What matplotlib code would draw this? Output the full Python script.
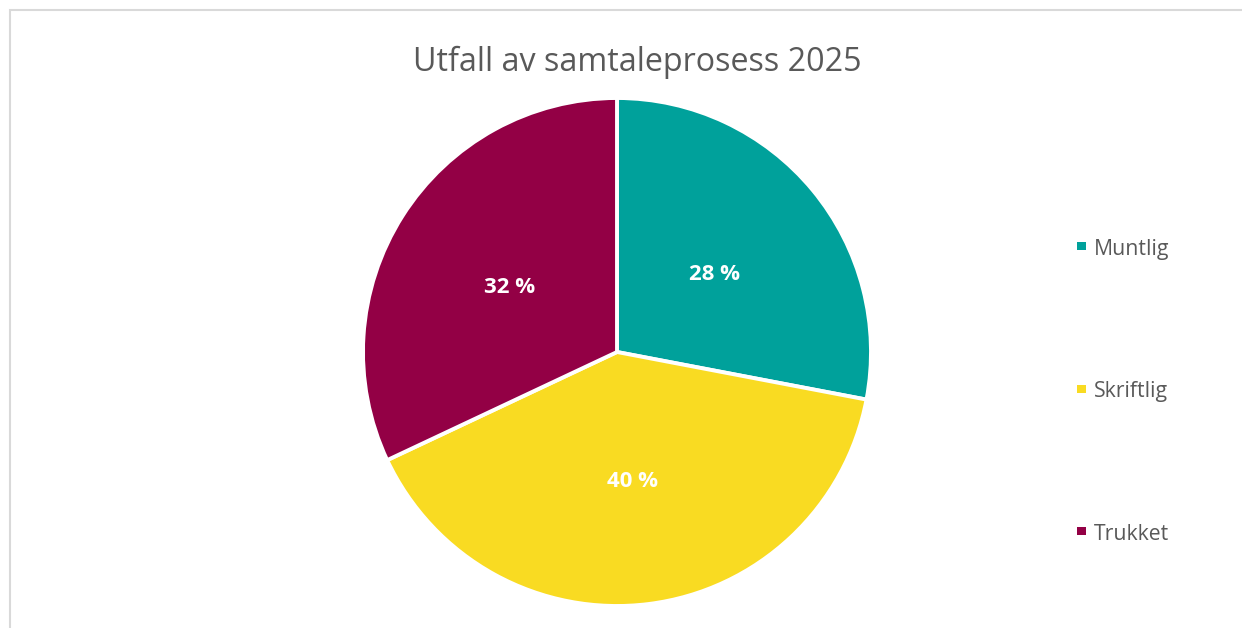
import matplotlib.pyplot as plt
from matplotlib.patches import Rectangle
import numpy as np

# data
labels = ['Muntlig', 'Skriftlig', 'Trukket']
shares = [28, 40, 32]
colors = ['#00A19B', '#F9DB22', '#930045']
title = 'Utfall av samtaleprosess 2025'

plt.rcParams['font.family'] = ['Open Sans', 'DejaVu Sans']
text_grey = '#595959'

fig = plt.figure(figsize=(12.42, 6.28), dpi=100)

# light frame like the Excel chart area
fig.patches.append(Rectangle((9.5 / 1242, -0.01), 1.1, 1 - 9.5 / 628 + 0.01,
                             transform=fig.transFigure, fill=False,
                             edgecolor='#d9d9d9', linewidth=1.5))

# pie axes: center (617, 352) px, radius 254 px
cx, cy, r = 617, 352, 254
ax = fig.add_axes([(cx - r) / 1242, (628 - cy - r) / 628, 2 * r / 1242, 2 * r / 628])
wedges, texts = ax.pie(shares, colors=colors, startangle=90, counterclock=False,
                       radius=1, wedgeprops=dict(edgecolor='white', linewidth=2.8))
ax.set_xlim(-1, 1)
ax.set_ylim(-1, 1)
ax.set_aspect('equal')
ax.axis('off')

# percentage labels inside the slices
for w, s in zip(wedges, shares):
    ang = np.deg2rad((w.theta1 + w.theta2) / 2)
    ax.text(0.5 * np.cos(ang), 0.5 * np.sin(ang) - 0.015, f'{s} %', ha='center',
            va='center', color='white', fontsize=16, fontweight='bold')

fig.text(637 / 1242, 1 - 62 / 628, title, ha='center', va='center',
         fontsize=23.2, color=text_grey)

# legend
legend_y = [246, 389, 531]
for lab, col, ly in zip(labels, colors, legend_y):
    fig.patches.append(Rectangle((1077 / 1242, 1 - (ly + 4) / 628), 9 / 1242, 8 / 628,
                                 transform=fig.transFigure, facecolor=col,
                                 edgecolor='none'))
    fig.text(1094 / 1242, 1 - (ly + 3) / 628, lab, ha='left', va='center',
             fontsize=15.3, color=text_grey)

fig.savefig('out.png', dpi=100, facecolor='white')
